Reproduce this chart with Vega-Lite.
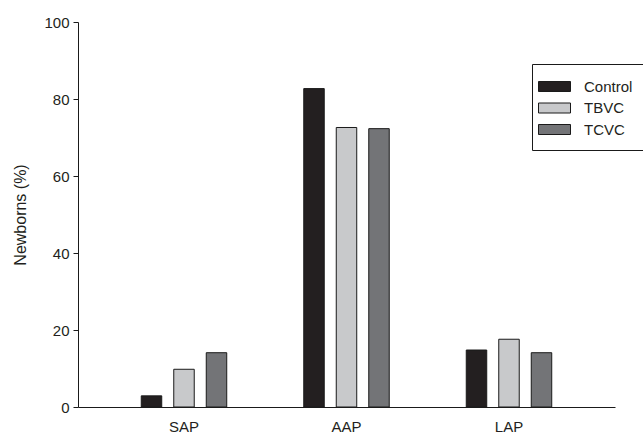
{
  "$schema": "https://vega.github.io/schema/vega-lite/v6.json",
  "autosize": "none",
  "padding": {"left": 78, "top": 22, "right": 28, "bottom": 26},
  "width": 537,
  "height": 385,
  "background": "white",
  "data": {"values": [
    {"group": "SAP", "treatment": "Control", "value": 2.9},
    {"group": "SAP", "treatment": "TBVC", "value": 9.8},
    {"group": "SAP", "treatment": "TCVC", "value": 14.1},
    {"group": "AAP", "treatment": "Control", "value": 82.7},
    {"group": "AAP", "treatment": "TBVC", "value": 72.6},
    {"group": "AAP", "treatment": "TCVC", "value": 72.3},
    {"group": "LAP", "treatment": "Control", "value": 14.8},
    {"group": "LAP", "treatment": "TBVC", "value": 17.6},
    {"group": "LAP", "treatment": "TCVC", "value": 14.1}
  ]},
  "mark": {"type": "bar", "stroke": "#1a1a1a", "strokeWidth": 1},
  "encoding": {
    "x": {
      "field": "group", "type": "nominal", "sort": ["SAP", "AAP", "LAP"],
      "scale": {"paddingInner": 0.274, "paddingOuter": 0.2893},
      "axis": {"title": null, "labelAngle": 0, "tickSize": 0, "labelPadding": 12, "domainColor": "#1a1a1a", "labelFont": "Liberation Sans", "labelFontSize": 15, "labelColor": "#231f20"}
    },
    "xOffset": {
      "field": "treatment", "type": "nominal", "sort": ["Control", "TBVC", "TCVC"],
      "scale": {"paddingInner": 0.37, "paddingOuter": 0.5}
    },
    "y": {
      "field": "value", "type": "quantitative",
      "scale": {"domain": [0, 100], "nice": false},
      "axis": {"title": "Newborns (%)", "values": [0, 20, 40, 60, 80, 100], "grid": false, "tickSize": 5, "labelPadding": 4, "titlePadding": 15, "domainColor": "#1a1a1a", "tickColor": "#1a1a1a", "labelFont": "Liberation Sans", "labelFontSize": 15, "labelColor": "#231f20", "titleFont": "Liberation Sans", "titleFontSize": 16, "titleFontWeight": "normal", "titleColor": "#231f20"}
    },
    "color": {
      "field": "treatment", "type": "nominal", "sort": ["Control", "TBVC", "TCVC"],
      "scale": {"domain": ["Control", "TBVC", "TCVC"], "range": ["#231f20", "#c8c9cb", "#737477"]},
      "legend": {
        "title": null, "orient": "none", "legendX": 454, "legendY": 42,
        "symbolType": "M-1.6,-0.5H1.6V0.5H-1.6Z", "symbolSize": 400,
        "symbolStrokeColor": "#1a1a1a", "symbolStrokeWidth": 1, "symbolOpacity": 1,
        "labelOffset": 19, "labelFont": "Liberation Sans", "labelFontSize": 15, "labelColor": "#231f20",
        "rowPadding": 2.5, "padding": 12, "strokeColor": "#1a1a1a", "fillColor": "white"
      }
    }
  },
  "config": {"view": {"stroke": null}, "axis": {"domainWidth": 1}}
}
